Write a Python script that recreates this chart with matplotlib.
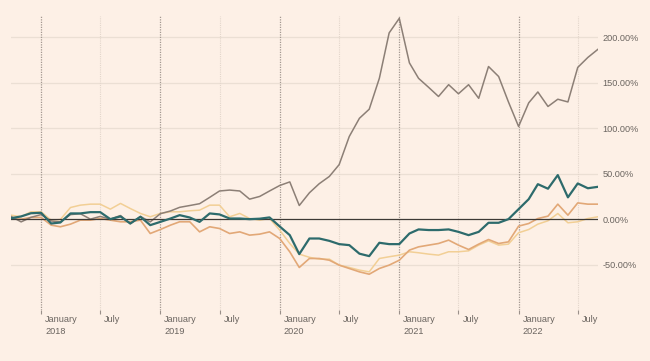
import matplotlib
matplotlib.use("Agg")
import matplotlib.pyplot as plt
import matplotlib.transforms as mtransforms
import pandas as pd

# monthly values, Oct 2017 .. Sep 2022 (percent change)
months = pd.date_range("2017-10-01", "2022-09-01", freq="MS")

brown = [3, -3, 2, 5, -2, -3, 5, 6, 0, 3, 0, 4, -5, 3, -3,
         6, 9, 13, 15, 17, 24, 31, 32, 31, 22, 25, 31,
         37, 41, 15, 29, 39, 47, 60, 91, 111, 121, 155, 205,
         221, 172, 155, 145, 135, 148, 138, 148, 133, 168, 157, 129,
         102, 128, 140, 124, 132, 129, 167, 178, 187]

teal = [1, 3, 6.5, 7, -4.8, -3.7, 6.3, 6.3, 7.7, 7.7, 0, 3, -4.8, 2.6, -6.6,
        -3, 0.7, 4.4, 1.8, -3, 6.3, 5.2, 0.7, 0.7, 0, 0.5, 1.9,
        -8, -17.6, -38.5, -21.3, -21.3, -23.9, -27.5, -28.6, -38, -40.7, -26, -27.5,
        -27.5, -15.8, -11.3, -12, -12, -11.3, -14, -17.6, -14, -4, -4, 0,
        11, 22, 38.5, 33.5, 48.5, 24, 39.3, 34, 35.6]

orange = [0.7, 0, 1.9, 1.9, -6.6, -8.4, -5.5, -1.1, -1.1, 0.7, -1.1, -2.9, -2.9, -1.1, -15.8,
          -11.4, -6.6, -2.9, -2.9, -14, -8.4, -10.3, -15.8, -14, -17.6, -16.5, -14,
          -21.3, -36, -53.2, -43.3, -43.3, -45.2, -50.6, -54.3, -58, -60.6, -54.3, -50.6,
          -45.2, -34.1, -30.5, -28.6, -26.8, -23.1, -28.6, -33.4, -27.5, -22.4, -26.8, -25,
          -7.7, -4.8, 0.7, 3.3, 16.5, 4.4, 17.9, 16.5, 16.5]

yellow = [4.4, 2.6, 8.1, 8.1, -1.1, -0.4, 12.8, 15.4, 16.5, 16.5, 11, 17.3, 11.7, 6.3, 2.6,
          6.3, 8.1, 8.1, 9.2, 9.9, 15.4, 15.4, 2.6, 6.3, 0.7, -1.1, 0.7,
          -12, -26.8, -38.5, -42, -44, -44, -50.6, -53.2, -56.1, -58, -43.3, -41.4,
          -39.6, -35.9, -37, -38.5, -39.6, -35.9, -35.9, -34.9, -28.6, -23.9, -28.6, -27.5,
          -15, -11.4, -5.5, -1.8, 6.2, -4, -2.9, 0.7, 2.6]

yticks = [-50, 0, 50, 100, 150, 200]
jan_ticks = pd.to_datetime(["2018-01-01", "2019-01-01", "2020-01-01", "2021-01-01", "2022-01-01"])
jul_ticks = pd.to_datetime(["2018-07-01", "2019-07-01", "2020-07-01", "2021-07-01", "2022-07-01"])

BG = "#fdf0e6"
plt.rcParams["font.family"] = ["Liberation Sans", "DejaVu Sans"]

fig = plt.figure(figsize=(6.5, 3.61), dpi=100, facecolor=BG)
ax = fig.add_axes([11 / 650, 51 / 361, 587 / 650, 294 / 361])
ax.set_facecolor(BG)

# grid
for y in yticks:
    if y != 0:
        ax.axhline(y, color="#ebdfd4", lw=0.9, zorder=0)
for d in jul_ticks:
    ax.axvline(d, color="#e3d6cb", lw=0.8, ls=(0, (1, 1)), zorder=0)
for d in jan_ticks:
    ax.axvline(d, color="#a39890", lw=0.9, ls=(0, (1, 1)), zorder=0)

ax.plot(months, yellow, color="#f2cf95", lw=1.1, zorder=2)
ax.plot(months, orange, color="#e2a877", lw=1.2, zorder=3)
ax.plot(months, brown, color="#8c7f76", lw=1.1, zorder=3)
ax.axhline(0, color="#3d3935", lw=0.9, zorder=4)
ax.plot(months, teal, color="#2d6b6c", lw=1.6, zorder=5)

ax.set_xlim(months[0], months[-1])
ax.set_ylim(-100, 223.6)

for s in ax.spines.values():
    s.set_visible(False)

ax.yaxis.tick_right()
ax.set_yticks(yticks, [f"{v:.2f}%" for v in yticks])
ax.tick_params(axis="y", length=0, pad=3, labelsize=6.6, labelcolor="#6b6560")

ticks = sorted(list(jan_ticks) + list(jul_ticks))
labels = [f"January\n{d.year}" if d.month == 1 else "July" for d in ticks]
ax.set_xticks(ticks, labels)
ax.tick_params(axis="x", length=3, width=0.8, color="#9a908a", pad=0.3,
               labelsize=6.6, labelcolor="#6b6560")
offset = mtransforms.ScaledTranslation(4 / 100, 0, fig.dpi_scale_trans)
for lab in ax.get_xticklabels():
    lab.set_horizontalalignment("left")
    lab.set_verticalalignment("top")
    lab.set_linespacing(1.45)
    lab.set_transform(lab.get_transform() + offset)

fig.savefig("out.png", dpi=100, facecolor=BG)
